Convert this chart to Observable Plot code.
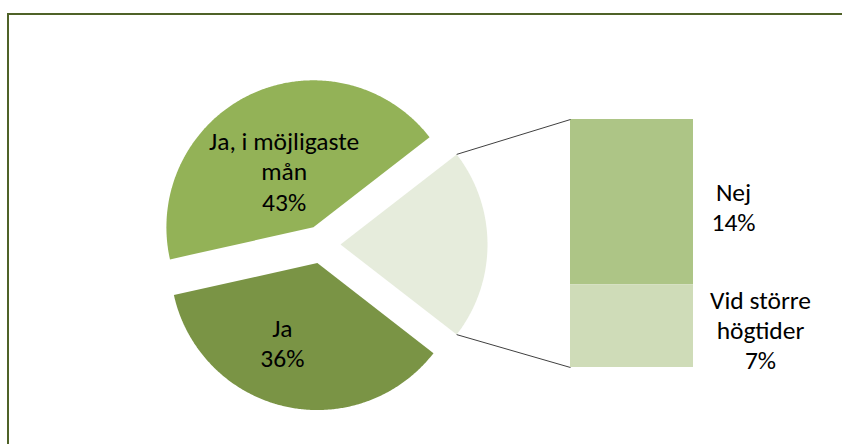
<!DOCTYPE html>
<html><head><meta charset="utf-8">
<script src="https://cdn.jsdelivr.net/npm/d3@7"></script>
<script src="https://cdn.jsdelivr.net/npm/@observablehq/plot@0.6"></script>
<style>
html,body{margin:0;padding:0;background:#fff;overflow:hidden;}
#wrap{position:relative;width:842px;height:444px;overflow:hidden;}
#frame{position:absolute;left:7px;top:13px;width:900px;height:500px;border-left:2px solid #4f6228;border-top:2px solid #4f6228;pointer-events:none;}
</style></head><body>
<div id="wrap"><div id="chart"></div><div id="frame"></div></div>
<script>
// ---- data ----
const categories = ["Ja, i möjligaste\nmån", "Ja", "Nej", "Vid större\nhögtider"];
const values = [43, 36, 14, 7];
const inBar = [false, false, true, true];
const colors = ["#93b257", "#7a9445", "#adc586", "#cfdcb8"];
const otherColor = "#e6ecdc";

// ---- layout ----
const W = 842, H = 444;
const cx = 321, cy = 244, R = 147, EXPLODE = 19;
const barX0 = 570, barX1 = 693, barTop = 119, barBottom = 367;
const FONT = 25.5;
const pieNudge = {0: [2, 10], 1: [-19, 8]};
const barLabelDx = {2: 40, 3: 67};
const barLabelDy = {2: 4, 3: 3};

const rad = d => d * Math.PI / 180;
const total = d3.sum(values);
const otherSum = d3.sum(values.filter((v, i) => inBar[i]));
const otherSpan = otherSum / total * 360;

// pie order clockwise from the right: other, then main slices reversed
const mainIdx = values.map((v, i) => i).filter(i => !inBar[i]).reverse();
const pieSlices = [{key: "other", value: otherSum, color: otherColor, idx: -1}]
  .concat(mainIdx.map(i => ({key: categories[i], value: values[i], color: colors[i], idx: i})));

let a = -otherSpan / 2;
const piePoints = [];
const sliceInfo = [];
for (const s of pieSlices) {
  const a0 = a, a1 = a + s.value / total * 360;
  a = a1;
  const bis = (a0 + a1) / 2;
  const ox = cx + EXPLODE * Math.cos(rad(bis));
  const oy = cy + EXPLODE * Math.sin(rad(bis));
  piePoints.push({key: s.key, color: s.color, x: ox, y: oy});
  const n = Math.ceil((a1 - a0) / 0.5);
  for (let k = 0; k <= n; k++) {
    const t = a0 + (a1 - a0) * k / n;
    piePoints.push({key: s.key, color: s.color, x: ox + R * Math.cos(rad(t)), y: oy + R * Math.sin(rad(t))});
  }
  sliceInfo.push({...s, a0, a1, bis, ox, oy});
}

const other = sliceInfo[0];
const links = [
  {x1: other.ox + R * Math.cos(rad(other.a0)), y1: other.oy + R * Math.sin(rad(other.a0)), x2: barX0, y2: barTop},
  {x1: other.ox + R * Math.cos(rad(other.a1)), y1: other.oy + R * Math.sin(rad(other.a1)), x2: barX0, y2: barBottom}
];

// bar segments
let cum = 0;
const barRows = [];
values.forEach((v, i) => {
  if (!inBar[i]) return;
  const y1 = barTop + cum / otherSum * (barBottom - barTop);
  cum += v;
  const y2 = barTop + cum / otherSum * (barBottom - barTop);
  barRows.push({key: categories[i], color: colors[i], y1, y2, i, v});
});

// labels
const labels = [];
for (const s of sliceInfo) {
  if (s.idx < 0) continue;
  const nd = pieNudge[s.idx] || [0, 0];
  labels.push({
    text: categories[s.idx] + "\n" + values[s.idx] + "%",
    x: s.ox + 0.5 * R * Math.cos(rad(s.bis)) + nd[0],
    y: s.oy + 0.5 * R * Math.sin(rad(s.bis)) + nd[1]
  });
}
for (const b of barRows) {
  labels.push({
    text: b.key + "\n" + b.v + "%",
    x: barX1 + barLabelDx[b.i],
    y: (b.y1 + b.y2) / 2 + barLabelDy[b.i]
  });
}

const chart = Plot.plot({
  width: W, height: H, margin: 0,
  x: {domain: [0, W], range: [0, W], axis: null},
  y: {domain: [0, H], range: [0, H], axis: null},
  color: {type: "identity"},
  style: {fontFamily: "Calibri, Carlito, Lato, sans-serif", background: "#fff"},
  marks: [
    Plot.line(piePoints, {x: "x", y: "y", z: "key", fill: "color", stroke: "none"}),
    Plot.rect(barRows, {x1: () => barX0, x2: () => barX1, y1: "y1", y2: "y2", fill: "color"}),
    Plot.link(links, {x1: "x1", y1: "y1", x2: "x2", y2: "y2", stroke: "#404040", strokeWidth: 1}),
    Plot.text(labels, {x: "x", y: "y", text: "text", fontSize: FONT, lineHeight: 1.18, fill: "#000", textAnchor: "middle"})
  ]
});
document.getElementById("chart").appendChild(chart);
</script>
</body></html>
